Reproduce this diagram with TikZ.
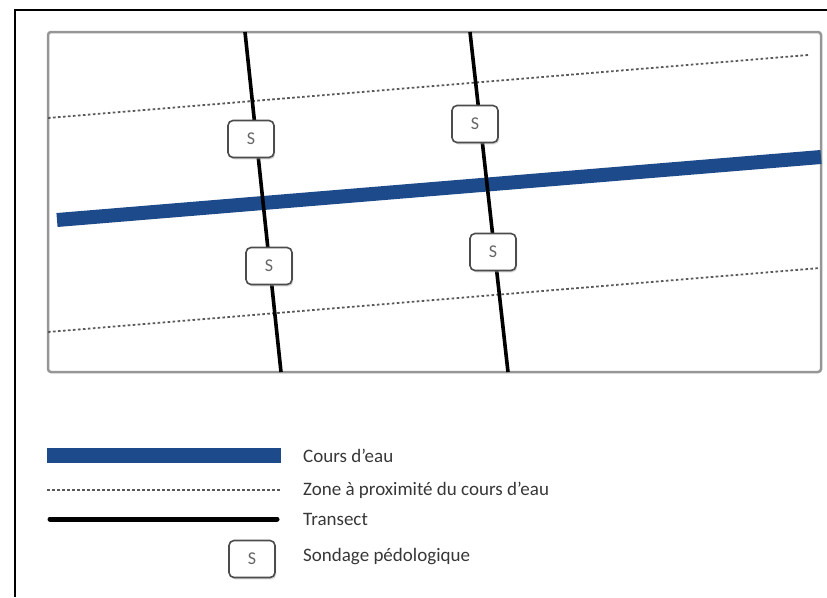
\documentclass[tikz,border=0pt]{standalone}
\usepackage{fontspec}
\setmainfont{Carlito}
\usetikzlibrary{shadows}
\definecolor{river}{RGB}{28,74,138}
\definecolor{txtgray}{RGB}{55,55,55}
\definecolor{framegray}{RGB}{150,150,150}
\tikzset{
  riverline/.style={draw=river,line width=14pt},
  zoneline/.style={draw=gray!70!black,line width=1.8pt,dash pattern=on 2.6pt off 2.4pt},
  transline/.style={draw=black,line width=3.6pt},
  sbox/.style={draw=black!70,fill=white,line width=1.6pt,rounded corners=5pt,
    minimum width=46pt,minimum height=37pt,inner sep=0pt,
    font=\fontsize{18}{18}\selectfont,text=black!60,
    drop shadow={shadow xshift=1.2pt,shadow yshift=-1.8pt,fill=black!35}},
  legtext/.style={anchor=west,inner sep=0pt,font=\fontsize{19}{19}\selectfont,text=txtgray},
}
\begin{document}
\begin{tikzpicture}[x=1pt,y=-1pt]
\useasboundingbox (0,0) rectangle (827,597);
% outer frame (top and left)
\draw[line width=2.5pt,black] (15,597) -- (15,10) -- (827,10);
% map frame
\draw[draw=framegray,line width=2.5pt,rounded corners=3pt] (48,32) rectangle (821,372);
% zone lines
\coordinate (zu1) at (48,118);
\coordinate (zu2) at (808,55);
\coordinate (zl1) at (48,332);
\coordinate (zl2) at (820,268);
\draw[zoneline] (zu1) -- (zu2);
\draw[zoneline] (zl1) -- (zl2);
% river
\coordinate (r1) at (57,220);
\coordinate (r2) at (821,157);
\draw[riverline] (r1) -- (r2);
% transects
\coordinate (t1a) at (245,32);
\coordinate (t1b) at (281,372);
\coordinate (t2a) at (470,32);
\coordinate (t2b) at (508,372);
\draw[transline] (t1a) -- (t1b);
\draw[transline] (t2a) -- (t2b);
% sondages
\node[sbox] (s1) at (251,139) {S};
\node[sbox] (s2) at (475,124) {S};
\node[sbox] (s3) at (269,266) {S};
\node[sbox] (s4) at (493,252) {S};
% legend
\coordinate (l1a) at (47,455);
\coordinate (l1b) at (281,455);
\draw[draw=river,line width=15pt] (l1a) -- (l1b);
\coordinate (l2a) at (47,490);
\coordinate (l2b) at (280,490);
\draw[zoneline] (l2a) -- (l2b);
\coordinate (l3a) at (50,519);
\coordinate (l3b) at (277,519);
\draw[draw=black,line width=5pt,line cap=round] (l3a) -- (l3b);
\node[sbox] (ls) at (252,559) {S};
\node[legtext] (t1) at (303,456) {Cours d'eau};
\node[legtext] (t2) at (303,490) {Zone à proximité du cours d'eau};
\node[legtext] (t3) at (303,519) {Transect};
\node[legtext] (t4) at (303,557) {Sondage pédologique};
\end{tikzpicture}
\end{document}
